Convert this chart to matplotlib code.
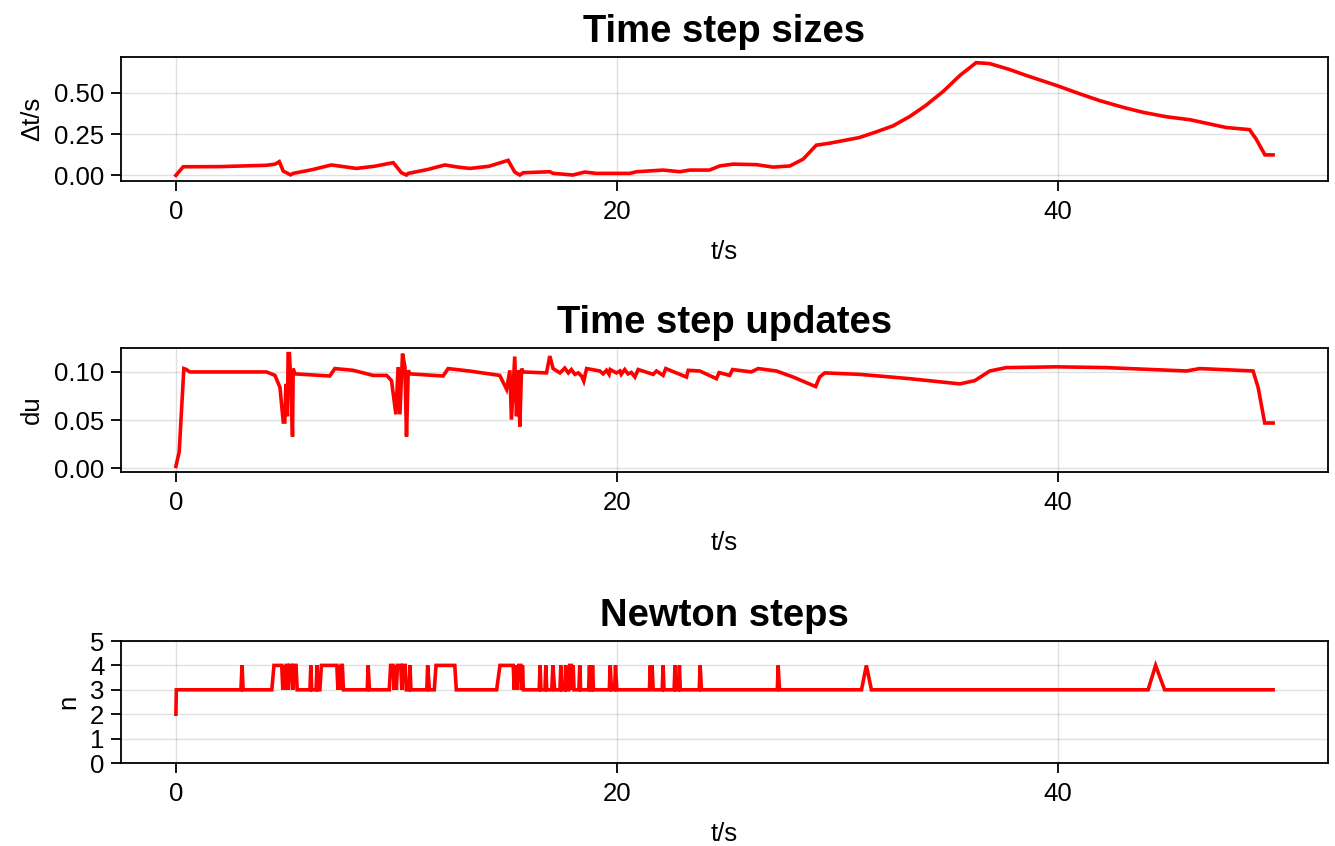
import matplotlib
matplotlib.use("Agg")
import matplotlib.pyplot as plt

# ---- Data: time step sizes ----
t_dt = [0, 0.33, 2.0, 4.11, 4.5, 4.69, 4.87, 5.2, 5.32, 6.2, 7.05, 7.6, 8.19, 9.0, 9.86,
        10.23, 10.46, 10.54, 11.4, 12.2, 12.8, 13.33, 14.2, 15.07, 15.37, 15.6, 15.75,
        16.96, 17.11, 17.5, 18.0, 18.55, 19.07, 20.59, 20.9, 22.1, 22.86, 23.3, 24.2,
        24.67, 25.27, 26.33, 27.09, 27.85, 28.45, 29.05, 29.66, 31.0, 31.78, 32.53, 33.29,
        34.0, 34.8, 35.56, 36.3, 36.92, 37.8, 38.58, 39.94, 41.0, 41.9, 42.97, 43.87,
        44.93, 46.0, 47.64, 48.7, 49.0, 49.4, 49.77]
dt = [0.0, 0.052, 0.053, 0.061, 0.068, 0.083, 0.026, 0.003, 0.012, 0.035, 0.063, 0.053,
      0.042, 0.055, 0.077, 0.016, 0.002, 0.012, 0.035, 0.063, 0.05, 0.042, 0.055, 0.091,
      0.02, 0.002, 0.016, 0.022, 0.012, 0.008, 0.002, 0.02, 0.012, 0.012, 0.022, 0.032,
      0.022, 0.032, 0.032, 0.057, 0.068, 0.065, 0.05, 0.057, 0.098, 0.183, 0.195, 0.229,
      0.264, 0.30, 0.357, 0.422, 0.508, 0.605, 0.683, 0.677, 0.642, 0.605, 0.545, 0.494,
      0.453, 0.412, 0.382, 0.355, 0.337, 0.29, 0.277, 0.22, 0.124, 0.124]

# ---- Data: time step updates ----
t_du = [0, 0.15, 0.36, 0.48, 0.63, 4.11, 4.49, 4.72, 4.87, 4.94, 4.99, 5.06, 5.09, 5.15,
        5.22, 5.29, 5.32, 5.4, 6.98, 7.21, 8.04, 8.95, 9.56, 9.78, 9.98, 10.08, 10.16,
        10.28, 10.39, 10.46, 10.54, 10.61, 12.12, 12.35, 13.33, 14.69, 15.0, 15.15, 15.22,
        15.37, 15.45, 15.53, 15.6, 15.68, 15.75, 16.81, 16.96, 17.11, 17.42, 17.64, 17.8,
        17.94, 18.1, 18.25, 18.4, 18.5, 18.63, 19.23, 19.38, 19.53, 19.65, 19.7, 19.98,
        20.14, 20.2, 20.36, 20.51, 20.66, 20.82, 20.97, 21.65, 21.8, 22.1, 22.22, 23.16,
        23.24, 23.76, 24.52, 24.64, 25.12, 25.25, 26.1, 26.41, 27.24, 28.0, 29.02, 29.2,
        29.43, 31.02, 33.29, 35.56, 36.24, 36.92, 37.67, 39.94, 42.2, 45.84, 46.44, 48.86,
        49.09, 49.39, 49.77]
du = [0.002, 0.017, 0.1035, 0.1025, 0.100, 0.100, 0.0965, 0.084, 0.048, 0.048, 0.0876,
      0.054, 0.119, 0.119, 0.0876, 0.033, 0.1035, 0.098, 0.0958, 0.1035, 0.1017, 0.0964,
      0.0964, 0.091, 0.056, 0.1051, 0.056, 0.119, 0.1051, 0.033, 0.1017, 0.098, 0.0958,
      0.1035, 0.1009, 0.0964, 0.082, 0.1017, 0.0505, 0.116, 0.054, 0.1017, 0.0434, 0.1035,
      0.100, 0.099, 0.1165, 0.1035, 0.099, 0.104, 0.099, 0.1025, 0.0975, 0.099, 0.0958,
      0.0905, 0.1035, 0.101, 0.098, 0.1017, 0.0975, 0.1025, 0.099, 0.101, 0.0975, 0.1025,
      0.098, 0.0995, 0.0947, 0.1025, 0.0975, 0.101, 0.0964, 0.1035, 0.0947, 0.1017, 0.101,
      0.093, 0.0993, 0.0964, 0.1025, 0.1, 0.1035, 0.101, 0.0947, 0.0848, 0.0947, 0.099,
      0.0975, 0.093, 0.0876, 0.091, 0.101, 0.1045, 0.1053, 0.1045, 0.101, 0.1035, 0.101,
      0.084, 0.047, 0.047]

# ---- Data: Newton steps ----
t_n = [0, 0.02,
       2.95, 3.0, 3.05,
       4.35, 4.45, 4.8, 4.85, 4.9, 4.95, 5.0, 5.05, 5.1, 5.15, 5.25, 5.3, 5.35, 5.45, 5.5,
       6.08, 6.12, 6.16, 6.36, 6.4, 6.45,
       6.53, 6.6, 7.3, 7.35, 7.4, 7.45, 7.5, 7.55, 7.6,
       8.68, 8.72, 8.78,
       9.68, 9.74, 9.85, 9.9, 9.95, 10.0, 10.05, 10.2, 10.25, 10.3, 10.4, 10.45,
       10.58, 10.62, 10.66,
       11.38, 11.42, 11.5,
       11.72, 11.8, 12.65, 12.72,
       14.55, 14.7, 15.3, 15.35, 15.4, 15.5, 15.55, 15.65, 15.7, 15.72, 15.76,
       16.48, 16.52, 16.56, 16.74, 16.78, 16.82,
       17.05, 17.1, 17.18,
       17.42, 17.46, 17.5, 17.64, 17.68, 17.72, 17.82, 17.86, 17.94, 17.98, 18.02, 18.06,
       18.28, 18.32, 18.36,
       18.72, 18.76, 18.8, 18.86, 18.9, 18.94,
       19.66, 19.7, 19.76, 19.9, 19.94, 20.0,
       21.48, 21.52, 21.56, 21.6, 21.65,
       22.06, 22.1, 22.14,
       22.6, 22.64, 22.68, 22.8, 22.84, 22.88,
       23.74, 23.78, 23.84,
       27.28, 27.32, 27.38,
       31.1, 31.32, 31.55,
       44.1, 44.44, 44.85,
       49.77]
n_steps = [2, 3,
           3, 4, 3,
           3, 4, 4, 3, 4, 3, 4, 4, 3, 4, 4, 3, 4, 4, 3,
           3, 4, 3, 3, 4, 3,
           3, 4, 4, 3, 4, 3, 4, 4, 3,
           3, 4, 3,
           3, 4, 4, 3, 4, 3, 4, 4, 3, 4, 4, 3,
           3, 4, 3,
           3, 4, 3,
           3, 4, 4, 3,
           3, 4, 4, 3, 4, 3, 4, 4, 3, 4, 3,
           3, 4, 3, 3, 4, 3,
           3, 4, 3,
           3, 4, 3, 3, 4, 3, 3, 4, 4, 3, 4, 3,
           3, 4, 3,
           3, 4, 3, 3, 4, 3,
           3, 4, 3, 3, 4, 3,
           3, 4, 3, 4, 3,
           3, 4, 3,
           3, 4, 3, 3, 4, 3,
           3, 4, 3,
           3, 4, 3,
           3, 4, 3,
           3, 4, 3,
           3]

titles = ["Time step sizes", "Time step updates", "Newton steps"]
ylabels = ["Δt/s", "du", "n"]
xlabel = "t/s"
xticks = [0, 20, 40]
yticks_list = [[0.0, 0.25, 0.5], [0.0, 0.05, 0.10], [0, 1, 2, 3, 4, 5]]
yticklabels_list = [["0.00", "0.25", "0.50"], ["0.00", "0.05", "0.10"],
                    ["0", "1", "2", "3", "4", "5"]]

plt.rcParams['font.family'] = ['Liberation Sans', 'DejaVu Sans']

W, H = 1335, 846
fig = plt.figure(figsize=(W / 100, H / 100), dpi=100)

left = 121 / W
width = (1328 - 121) / W
boxes = [(57, 181), (348, 472), (641, 763)]
series = [(t_dt, dt), (t_du, du), (t_n, n_steps)]

for i, ((top, bot), (tx, ty)) in enumerate(zip(boxes, series)):
    ax = fig.add_axes([left, 1 - bot / H, width, (bot - top) / H])
    ax.plot(tx, ty, color=(1, 0, 0), lw=2.6, solid_joinstyle='miter')
    ax.set_xlim(-2.49, 52.26)
    if i == 2:
        ax.set_ylim(0, 5)
    else:
        ax.margins(y=0.05)
    ax.set_xticks(xticks)
    ax.set_xticklabels([str(v) for v in xticks])
    ax.set_yticks(yticks_list[i])
    ax.set_yticklabels(yticklabels_list[i])
    ax.grid(True, color='black', alpha=0.12, lw=1)
    ax.set_axisbelow(True)
    for s in ax.spines.values():
        s.set_linewidth(1.3)
    ax.tick_params(axis='x', direction='out', length=7, width=1.3, pad=7, labelsize=18.5)
    ax.tick_params(axis='y', direction='out', length=7, width=1.3, pad=5, labelsize=18.5)
    ax.set_title(titles[i], fontsize=27.5, fontweight='bold', pad=11)
    ax.set_xlabel(xlabel, fontsize=18.5, labelpad=11)
    ax.set_ylabel(ylabels[i], fontsize=18.5, labelpad=7)

fig.savefig("out.png", dpi=100)
